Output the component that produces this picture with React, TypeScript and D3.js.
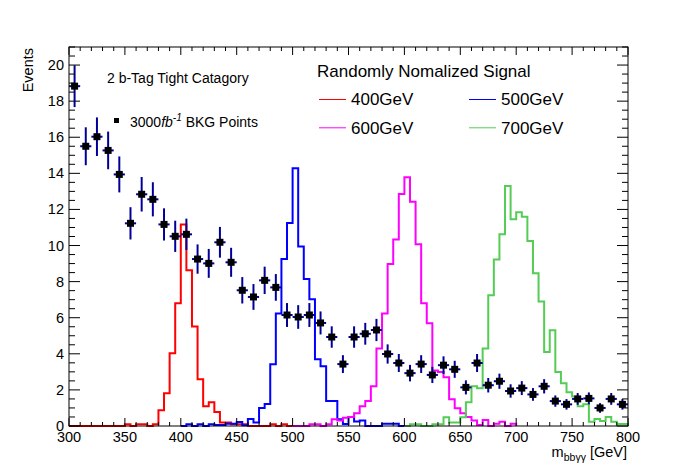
import React from 'react';
import * as d3 from 'd3';

// background points, 10 GeV bins starting at 300
const bkgLow = 300;
const bkgBin = 10;
const bkgValues = [
  18.83, 15.5, 16.03, 15.27, 13.94, 11.23, 12.84, 12.56, 11.17, 10.51,
  10.62, 9.25, 9.01, 10.18, 9.07, 7.52, 7.15, 8.07, 7.68, 6.15,
  6.04, 6.15, 5.71, 4.93, 3.43, 4.93, 5.11, 5.32, 3.99, 3.49,
  2.93, 3.43, 2.83, 3.37, 3.14, 2.14, 3.49, 2.26, 2.48, 1.94,
  2.1, 1.75, 2.2, 1.38, 1.2, 1.5, 1.53, 1.0, 1.5, 1.2,
];
// per-event weight of the MC sample, error = sqrt(N * w)
const bkgWeight = 0.0713;

// signal histograms, 5 GeV bins, each covering mass +- 100 GeV
const sigBin = 5;
const sig400Low = 300;
const sig400 = [
  0, 0, 0, 0, 0, 0, 0, 0, 0, 0,
  0.1, 0, 0.1, 0.1, 0, 0.1, 0.87, 1.81, 4.03, 6.8,
  11.17, 8.63, 5.52, 2.59, 1.09, 1.31, 0.77, 0.2, 0.2, 0.1,
  0.1, 0.1, 0, 0, 0, 0, 0.1, 0, 0.1, 0,
];
const sig500Low = 400;
const sig500 = [
  0, 0.1, 0, 0.1, 0, 0.1, 0.05, 0.05, 0.13, 0.13,
  0.22, 0.04, 0.39, 0.2, 1.0, 1.22, 3.42, 6.24, 9.25, 11.25,
  14.28, 9.95, 8.14, 7.02, 3.7, 3.31, 1.39, 1.39, 0.37, 0.11,
  0.5, 0.25, 0.3, 0, 0, 0, 0.12, 0.12, 0.12, 0,
];
const sig600Low = 500;
const sig600 = [
  0, 0, 0, 0.1, 0.1, 0, 0.1, 0.37, 0.3, 0.46,
  0.5, 0.7, 1.09, 1.39, 2.2, 4.3, 6.24, 8.98, 10.34, 12.85,
  13.78, 12.43, 10.07, 6.8, 5.69, 3.07, 2.99, 2.7, 1.48, 0.98,
  0.7, 0.5, 0.3, 0.06, 0.33, 0, 0.12, 0.24, 0, 0.12,
];
const sig700Low = 600;
const sig700 = [
  0, 0.1, 0.1, 0, 0, 0.1, 0.1, 0.48, 0.2, 0.2,
  0.48, 1.31, 2.2, 2.09, 4.3, 7.24, 9.23, 10.62, 13.3, 11.45,
  11.84, 11.6, 10.25, 8.46, 6.9, 4.1, 5.3, 2.99, 2.37, 1.87,
  1.63, 1.09, 1.2, 0.24, 0.39, 0.28, 0.5, 0.24, 0.11, 0.11,
];

const sigLabels = ['400GeV', '500GeV', '600GeV', '700GeV'];
const xTickLabels = ['300', '350', '400', '450', '500', '550', '600', '650', '700', '750', '800'];
const yTickLabels = ['0', '2', '4', '6', '8', '10', '12', '14', '16', '18', '20'];

const W = 698;
const H = 474;
const FONT = '"Liberation Sans", Arial, Helvetica, sans-serif';
const frame = { left: 69, right: 628, top: 47, bottom: 426 };
const sigColors = ['#ff0000', '#0000ff', '#ff00ff', '#55cc55'];

const signals = [
  { low: sig400Low, values: sig400 },
  { low: sig500Low, values: sig500 },
  { low: sig600Low, values: sig600 },
  { low: sig700Low, values: sig700 },
];

const App: React.FC = () => {
  const x = d3.scaleLinear().domain([300, 800]).range([frame.left, frame.right]);
  const y = d3.scaleLinear().domain([0, 21]).range([frame.bottom, frame.top]);

  const step = d3.line<[number, number]>()
    .x(d => x(d[0]))
    .y(d => y(d[1]))
    .curve(d3.curveStepAfter);

  const histPath = (low: number, values: number[]) => {
    const hi = low + values.length * sigBin;
    const pts: [number, number][] = [[low, 0]];
    values.forEach((v, i) => pts.push([low + i * sigBin, v]));
    pts.push([hi, values[values.length - 1]]);
    pts.push([hi, 0]);
    return step(pts) || '';
  };

  const xMajor = xTickLabels.map(Number);
  const xMinor = d3.range(300, 801, 10);
  const yMajor = yTickLabels.map(Number);
  const yMinor = d3.range(0, 21.01, 0.5);

  const fw = frame.right - frame.left;
  const fh = frame.bottom - frame.top;

  return (
    <div style={{ position: 'absolute', left: 0, top: 0 }}>
      <svg width={W} height={H} style={{ display: 'block', background: '#fff' }} fontFamily={FONT}>
        <rect x={0} y={0} width={W} height={H} fill="#fff" />

        {/* signal histograms */}
        {signals.map((s, i) => (
          <path key={i} d={histPath(s.low, s.values)} fill="none" stroke={sigColors[i]} strokeWidth={2} />
        ))}

        {/* background points */}
        <g>
          {bkgValues.map((v, i) => {
            const lo = bkgLow + i * bkgBin;
            const c = lo + bkgBin / 2;
            const e = Math.sqrt(v * bkgWeight);
            return (
              <g key={i}>
                <line x1={x(lo)} x2={x(lo + bkgBin)} y1={y(v)} y2={y(v)} stroke="#000099" strokeWidth={2} />
                <line x1={x(c)} x2={x(c)} y1={y(v - e)} y2={y(v + e)} stroke="#000099" strokeWidth={2} />
                <rect x={x(c) - 3.5} y={y(v) - 3.5} width={7} height={7} fill="#000" />
              </g>
            );
          })}
        </g>

        {/* frame */}
        <rect x={frame.left} y={frame.top} width={fw} height={fh} fill="none" stroke="#000" strokeWidth={1} />

        {/* x ticks, bottom and top */}
        <g stroke="#000" strokeWidth={1}>
          {xMinor.map(v => {
            const len = xMajor.includes(v) ? 8 : 4;
            return (
              <g key={v}>
                <line x1={x(v)} x2={x(v)} y1={frame.bottom} y2={frame.bottom - len} />
                <line x1={x(v)} x2={x(v)} y1={frame.top} y2={frame.top + len} />
              </g>
            );
          })}
          {yMinor.map(v => {
            const len = Math.abs(v % 2) < 1e-6 ? 11 : 6;
            return (
              <g key={v}>
                <line x1={frame.left} x2={frame.left + len} y1={y(v)} y2={y(v)} />
                <line x1={frame.right} x2={frame.right - len} y1={y(v)} y2={y(v)} />
              </g>
            );
          })}
        </g>

        {/* tick labels */}
        <g fontSize={14.5} fill="#000">
          {xTickLabels.map((t, i) => (
            <text key={t} x={x(xMajor[i])} y={442} textAnchor="middle">{t}</text>
          ))}
          {yTickLabels.map((t, i) => (
            <text key={t} x={64} y={y(yMajor[i])} textAnchor="end" dominantBaseline="central">{t}</text>
          ))}
        </g>

        {/* axis titles */}
        <text x={627} y={457} textAnchor="end" fontSize={14.5}>
          m<tspan fontSize={10.5} dy={4}>bbγγ</tspan><tspan dy={-4}> [GeV]</tspan>
        </text>
        <text transform="translate(33,48) rotate(-90)" textAnchor="end" fontSize={14.5}>Events</text>

        {/* labels */}
        <text x={107} y={83} fontSize={14}>2 b-Tag Tight Catagory</text>
        <rect x={114} y={118} width={5} height={5} fill="#000" />
        <text x={130} y={126.5} fontSize={14}>
          3000<tspan fontStyle="italic">fb</tspan><tspan fontStyle="italic" fontSize={10} dy={-6}>-1</tspan><tspan dy={6}> BKG Points</tspan>
        </text>

        {/* signal legend */}
        <text x={317} y={77} fontSize={17}>Randomly Nomalized Signal</text>
        {sigLabels.map((l, i) => {
          const col = i % 2;
          const row = Math.floor(i / 2);
          const lx = col === 0 ? 319 : 469;
          const ly = 99.5 + row * 28.3;
          return (
            <g key={l}>
              <line x1={lx} x2={lx + 27} y1={ly} y2={ly} stroke={sigColors[i]} strokeWidth={1} />
              <text x={lx + 32} y={ly + 5.8} fontSize={17}>{l}</text>
            </g>
          );
        })}
      </svg>
    </div>
  );
};

export default App;
